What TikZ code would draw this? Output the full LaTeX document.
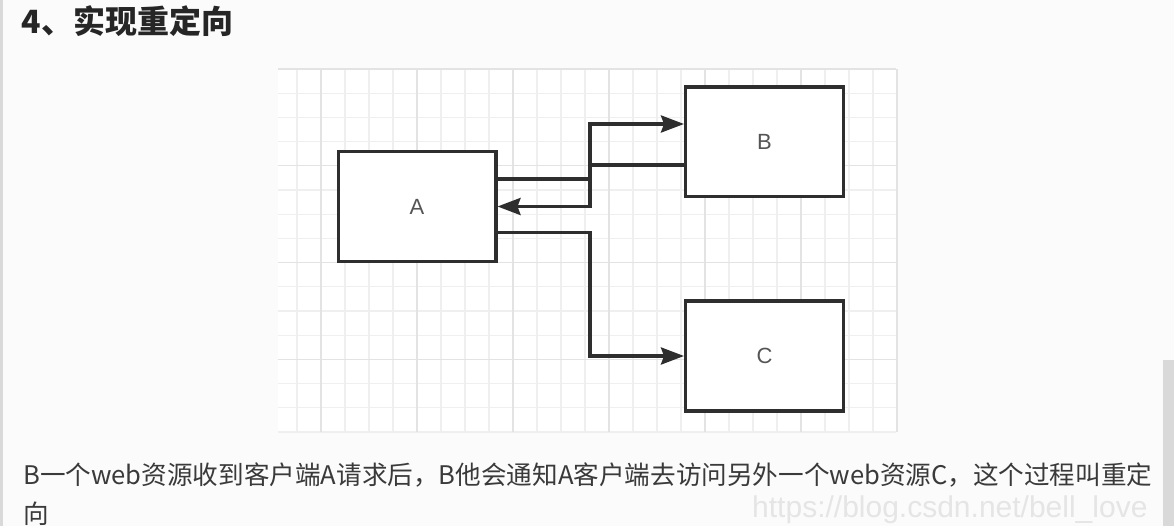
\documentclass[tikz,border=0pt]{standalone}
\usepackage{fontspec}
\setmainfont{Liberation Sans}
\newfontfamily\cjk{Noto Sans CJK SC}
\usetikzlibrary{arrows.meta}
\definecolor{pagebg}{HTML}{FBFBFB}
\definecolor{linecol}{HTML}{2E2E2E}
\definecolor{labelcol}{HTML}{555555}
\definecolor{gridminor}{HTML}{EFEFEF}
\definecolor{gridmajor}{HTML}{E3E3E3}
\definecolor{textcol}{HTML}{3A3A3A}
\begin{document}
\begin{tikzpicture}[x = 1pt, y = -1pt,
        box/.style = {draw = linecol, line width = 3.4pt, fill = white, minimum width = 157.6pt, minimum height = 109.6pt, text = labelcol, font = \fontsize{22}{22}\selectfont},
        flow/.style = {draw = linecol, line width = 3.4pt, -{Stealth[length = 23pt, width = 17pt, inset = 3pt]}}]
    \useasboundingbox[fill = pagebg] (0,0) rectangle (1174,526);
    \fill[gray!30] (0,0) rectangle (3,526);
    \fill[gray!30] (1163,360) rectangle (1174,526);
    % grid
    \fill[white] (278,69) rectangle (896,432);
    \foreach \k in {0,...,15} {
        \draw[gridminor, line width = 1.2pt] (278,69+24.2*\k) -- (896,69+24.2*\k);
    }
    \foreach \k in {0,...,24} {
        \draw[gridminor, line width = 1.2pt] (297+24*\k,69) -- (297+24*\k,432);
    }
    \foreach \k in {0,...,3} {
        \draw[gridmajor, line width = 1.4pt] (278,69+96.8*\k) -- (896,69+96.8*\k);
    }
    \foreach \k in {0,...,6} {
        \draw[gridmajor, line width = 1.4pt] (321+96*\k,69) -- (321+96*\k,432);
    }
    % boxes
    \node[box] (A) at (417,206.5) {A};
    \node[box] (B) at (764.5,142) {B};
    \node[box] (C) at (764.5,356) {C};
    % redirect
    \draw[flow] ([yshift = 27.5pt]A.east) -- ++(92.5,0) |- ([yshift = 18pt]B.west);
    \draw[flow] ([yshift = -23pt]B.west) -- ++(-94,0) |- (A.east);
    \draw[flow] ([yshift = -26pt]A.east) -- ++(92.5,0) |- (C.west);
    % texts
    \node[anchor = west, text = black!85, font = \cjk\bfseries\fontsize{32}{32}\selectfont] (title) at (18,21) {4、实现重定向};
    \node[anchor = west, inner sep = 0pt, text = textcol, font = \cjk\fontsize{25.6}{25.6}\selectfont] (line1) at (23,475) {B一个web资源收到客户端A请求后，B他会通知A客户端去访问另外一个web资源C，这个过程叫重定};
    \node[anchor = west, inner sep = 0pt, text = textcol, font = \cjk\fontsize{25.6}{25.6}\selectfont] (line2) at (23,514) {向};
    \node[anchor = west, inner sep = 0pt, text = gray!20, font = \fontsize{30}{30}\selectfont] (mark) at (752,510) {https://blog.csdn.net/bell\_love};
\end{tikzpicture}
\end{document}
